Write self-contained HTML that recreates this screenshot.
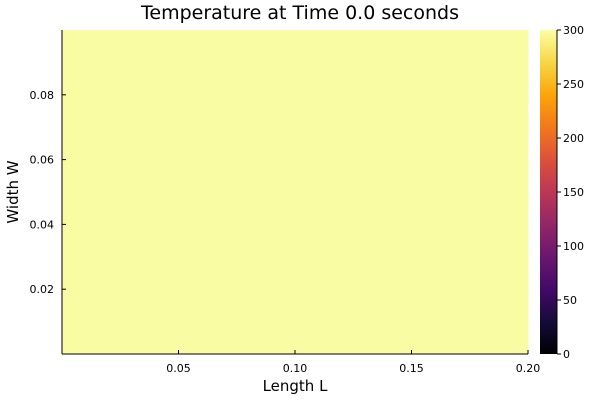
<!DOCTYPE html>
<html><head><meta charset="utf-8"><style>
body{margin:0;background:#fff;}
svg text{font-family:"DejaVu Sans","Liberation Sans",sans-serif;fill:#000;}
</style></head><body>
<svg id="chart" width="600" height="400" viewBox="0 0 600 400">
<defs>
<linearGradient id="inferno" x1="0" y1="1" x2="0" y2="0">
<stop offset="0" stop-color="#000004"/><stop offset="0.1" stop-color="#160b39"/>
<stop offset="0.2" stop-color="#420a68"/><stop offset="0.3" stop-color="#6a176e"/>
<stop offset="0.4" stop-color="#932667"/><stop offset="0.5" stop-color="#bc3754"/>
<stop offset="0.6" stop-color="#dd513a"/><stop offset="0.7" stop-color="#f37819"/>
<stop offset="0.8" stop-color="#fca50a"/><stop offset="0.9" stop-color="#f6d746"/>
<stop offset="1" stop-color="#fcffa4"/>
</linearGradient>
</defs>
<text x="300" y="19" font-size="19" text-anchor="middle">Temperature at Time 0.0 seconds</text>
<g id="cells"></g>
<g id="axes"></g>
<rect x="540" y="30" width="17" height="324" fill="url(#inferno)"/>
<g id="cbticks"></g>
<text x="295" y="391" font-size="15" text-anchor="middle">Length L</text>
<text x="18" y="192" font-size="15" text-anchor="middle" transform="rotate(-90 18 192)">Width W</text>
</svg>
<script>
const xTicks=[0.05,0.10,0.15,0.20];
const yTicks=[0.02,0.04,0.06,0.08];
const cbTicks=[0,50,100,150,200,250,300];
const nx=10, ny=5;
const temps=[
[300,300,300,300,300,300,300,300,300,300],
[300,300,300,300,300,300,300,300,300,300],
[300,300,300,300,300,300,300,300,300,300],
[300,300,300,300,300,300,300,300,300,300],
[300,300,300,300,300,300,300,300,300,300]];
const L=0.2,W=0.1,cmin=0,cmax=300;
const px0=62,px1=528,py0=354,py1=30;
const sx=v=>px0+(v/L)*(px1-px0);
const sy=v=>py0-(v/W)*(py0-py1);
const cy=v=>354-(v-cmin)/(cmax-cmin)*324;
const NS="http://www.w3.org/2000/svg";
const stops=[[0,[0,0,4]],[0.1,[22,11,57]],[0.2,[66,10,104]],[0.3,[106,23,110]],[0.4,[147,38,103]],[0.5,[188,55,84]],[0.6,[221,81,58]],[0.7,[243,120,25]],[0.8,[252,165,10]],[0.9,[246,215,70]],[1,[250,252,163]]];
function col(v){const t=(v-cmin)/(cmax-cmin);for(let i=1;i<stops.length;i++){if(t<=stops[i][0]){const a=stops[i-1],b=stops[i],f=(t-a[0])/(b[0]-a[0]);return 'rgb('+a[1].map((c,k)=>Math.round(c+(b[1][k]-c)*f)).join(',')+')';}}return 'rgb(250,252,163)';}
function mk(tag,attrs,parent){const e=document.createElementNS(NS,tag);for(const k in attrs)e.setAttribute(k,attrs[k]);parent.appendChild(e);return e;}
const cells=document.getElementById('cells');
temps.forEach((row,j)=>row.forEach((v,i)=>{
 const x0=sx(i*L/nx),x1=sx((i+1)*L/nx),y0=sy((j+1)*W/ny),y1=sy(j*W/ny);
 const r=mk('rect',{x:x0,y:y0,width:x1-x0+0.5,height:y1-y0+0.5,fill:col(v)},cells);
 
 
}));
const ax=document.getElementById('axes');
mk('line',{x1:px0,y1:py0,x2:px1,y2:py0,stroke:'#000','stroke-width':1},ax);
mk('line',{x1:px0,y1:py0,x2:px0,y2:py1,stroke:'#000','stroke-width':1},ax);
xTicks.forEach(v=>{const x=sx(v);mk('line',{x1:x,y1:py0,x2:x,y2:py0-4,stroke:'#000'},ax);
 const t=mk('text',{x:x,y:372,'font-size':11,'text-anchor':'middle'},ax);t.textContent=v.toFixed(2);
 
 });
yTicks.forEach(v=>{const y=sy(v);mk('line',{x1:px0,y1:y,x2:px0+4,y2:y,stroke:'#000'},ax);
 const t=mk('text',{x:54,y:y+4,'font-size':11,'text-anchor':'end'},ax);t.textContent=v.toFixed(2);
 
 });
const cb=document.getElementById('cbticks');
mk('line',{x1:557,y1:30,x2:557,y2:354,stroke:'#000'},cb);
cbTicks.forEach(v=>{const y=cy(v);mk('line',{x1:557,y1:y,x2:561,y2:y,stroke:'#000'},cb);
 const t=mk('text',{x:563,y:y+4,'font-size':11},cb);t.textContent=v;
 
 });
</script>
</body></html>
